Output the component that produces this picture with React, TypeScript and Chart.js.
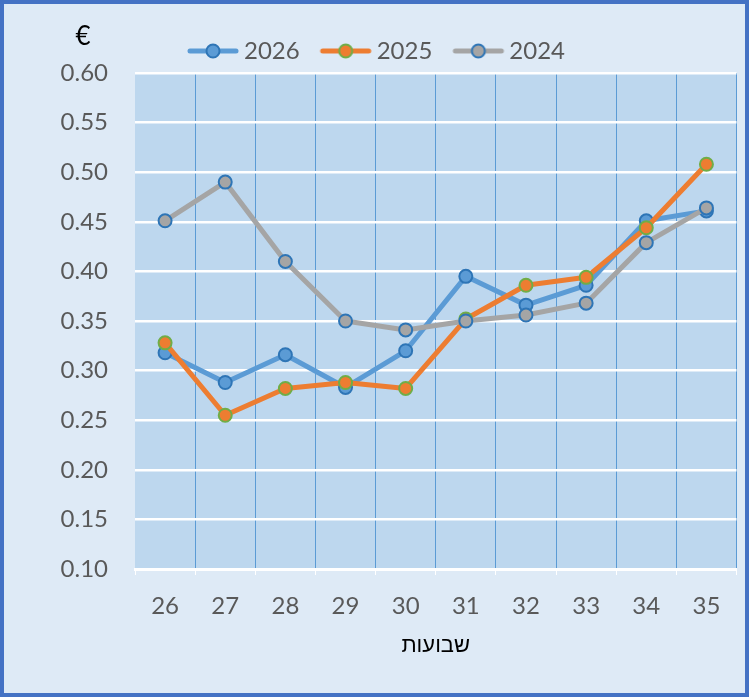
import React, { useEffect, useRef } from 'react';
import { Chart, registerables } from 'chart.js';

Chart.register(...registerables);

const weeks = ['26', '27', '28', '29', '30', '31', '32', '33', '34', '35'];
const prices2026 = [0.318, 0.288, 0.316, 0.283, 0.32, 0.395, 0.366, 0.386, 0.451, 0.461];
const prices2025 = [0.328, 0.255, 0.282, 0.288, 0.282, 0.352, 0.386, 0.394, 0.444, 0.508];
const prices2024 = [0.451, 0.49, 0.41, 0.35, 0.341, 0.35, 0.356, 0.368, 0.429, 0.464];
const seriesLabels = ['2026', '2025', '2024'];

const FONT = 'Lato';

// legend icon: a short thick line with the marker in the middle
function makeLegendIcon(line: string, fill: string, border: string) {
  const c = document.createElement('canvas');
  c.width = 60;
  c.height = 18;
  const ctx = c.getContext('2d')!;
  ctx.strokeStyle = line;
  ctx.lineWidth = 5;
  ctx.lineCap = 'round';
  ctx.beginPath();
  ctx.moveTo(10, 9);
  ctx.lineTo(56, 9);
  ctx.stroke();
  ctx.beginPath();
  ctx.arc(33, 9, 6.5, 0, Math.PI * 2);
  ctx.fillStyle = fill;
  ctx.fill();
  ctx.lineWidth = 2;
  ctx.strokeStyle = border;
  ctx.stroke();
  return c;
}

const plotBackground = {
  id: 'plotBackground',
  beforeDraw(chart: any) {
    const { ctx, chartArea } = chart;
    ctx.save();
    ctx.fillStyle = '#bdd7ee';
    ctx.fillRect(chartArea.left, chartArea.top, chartArea.right - chartArea.left, chartArea.bottom - chartArea.top);
    ctx.restore();
  },
  afterDraw(chart: any) {
    const { ctx, chartArea } = chart;
    ctx.save();
    ctx.fillStyle = '#000000';
    ctx.font = `26px ${FONT}`;
    ctx.textAlign = 'center';
    ctx.textBaseline = 'middle';
    ctx.fillText('€', chartArea.left - 52, 33);
    ctx.restore();
  },
};

const App: React.FC = () => {
  const canvasRef = useRef<HTMLCanvasElement | null>(null);
  const chartRef = useRef<Chart | null>(null);

  useEffect(() => {
    if (!canvasRef.current) return;
    if (chartRef.current) chartRef.current.destroy();

    const icons = [
      makeLegendIcon('#5b9bd5', '#5b9bd5', '#2e75b6'),
      makeLegendIcon('#ed7d31', '#ed7d31', '#70ad47'),
      makeLegendIcon('#a5a5a5', '#a5a5a5', '#2e75b6'),
    ];

    chartRef.current = new Chart(canvasRef.current, {
      type: 'line',
      data: {
        labels: weeks,
        datasets: [
          {
            label: seriesLabels[0],
            data: prices2026,
            borderColor: '#5b9bd5',
            pointBackgroundColor: '#5b9bd5',
            pointBorderColor: '#2e75b6',
            order: 3,
          },
          {
            label: seriesLabels[1],
            data: prices2025,
            borderColor: '#ed7d31',
            pointBackgroundColor: '#ed7d31',
            pointBorderColor: '#70ad47',
            order: 2,
          },
          {
            label: seriesLabels[2],
            data: prices2024,
            borderColor: '#a5a5a5',
            pointBackgroundColor: '#a5a5a5',
            pointBorderColor: '#2e75b6',
            order: 1,
          },
        ],
      },
      options: {
        animation: false,
        responsive: true,
        maintainAspectRatio: false,
        elements: {
          line: { borderWidth: 5, tension: 0, borderCapStyle: 'round', borderJoinStyle: 'round' },
          point: { radius: 6.5, borderWidth: 2, hoverRadius: 6.5 },
        },
        layout: { padding: { top: 14, right: 0, bottom: 34, left: 4 } },
        plugins: {
          tooltip: { enabled: false },
          legend: {
            position: 'top',
            labels: {
              usePointStyle: true,
              pointStyleWidth: 44,
              padding: 21,
              color: '#595959',
              font: { family: FONT, size: 24 },
              generateLabels: (chart: any) =>
                chart.data.datasets.map((ds: any, i: number) => ({
                  text: ds.label,
                  pointStyle: icons[i],
                  fillStyle: ds.borderColor,
                  strokeStyle: ds.borderColor,
                  lineWidth: 0,
                  hidden: false,
                  datasetIndex: i,
                  fontColor: '#595959',
                })),
            },
          },
        },
        scales: {
          x: {
            offset: true,
            grid: {
              offset: true,
              color: (c: any) => (c.index === 0 ? 'rgba(0,0,0,0)' : '#5b9bd5'),
              lineWidth: 1,
              tickColor: '#ffffff',
              tickLength: 6,
            },
            border: { display: true, color: '#ffffff', width: 3 },
            ticks: {
              color: '#595959',
              font: { family: FONT, size: 24, lineHeight: 1 },
              padding: 19,
            },
            title: {
              display: true,
              text: 'שבועות',
              color: '#000000',
              font: { family: 'Liberation Sans', size: 22, lineHeight: '18px' },
              padding: { top: 0, bottom: 4 },
            },
          },
          y: {
            min: 0.1,
            max: 0.6,
            afterFit: (scale: any) => {
              scale.width = 127;
            },
            grid: { color: '#ffffff', lineWidth: 2.5, drawTicks: false },
            border: { display: false },
            ticks: {
              stepSize: 0.05,
              color: '#595959',
              font: { family: FONT, size: 24 },
              padding: 27,
              callback: (v: any) => Number(v).toFixed(2),
            },
          },
        },
      },
      plugins: [plotBackground],
    });

    return () => {
      if (chartRef.current) {
        chartRef.current.destroy();
        chartRef.current = null;
      }
    };
  }, []);

  return (
    <div
      style={{
        position: 'fixed',
        left: 0,
        top: 0,
        width: 749,
        height: 697,
        boxSizing: 'border-box',
        border: '4px solid #4472c4',
        background: '#deeaf6',
      }}
    >
      <canvas ref={canvasRef} />
    </div>
  );
};

export default App;
